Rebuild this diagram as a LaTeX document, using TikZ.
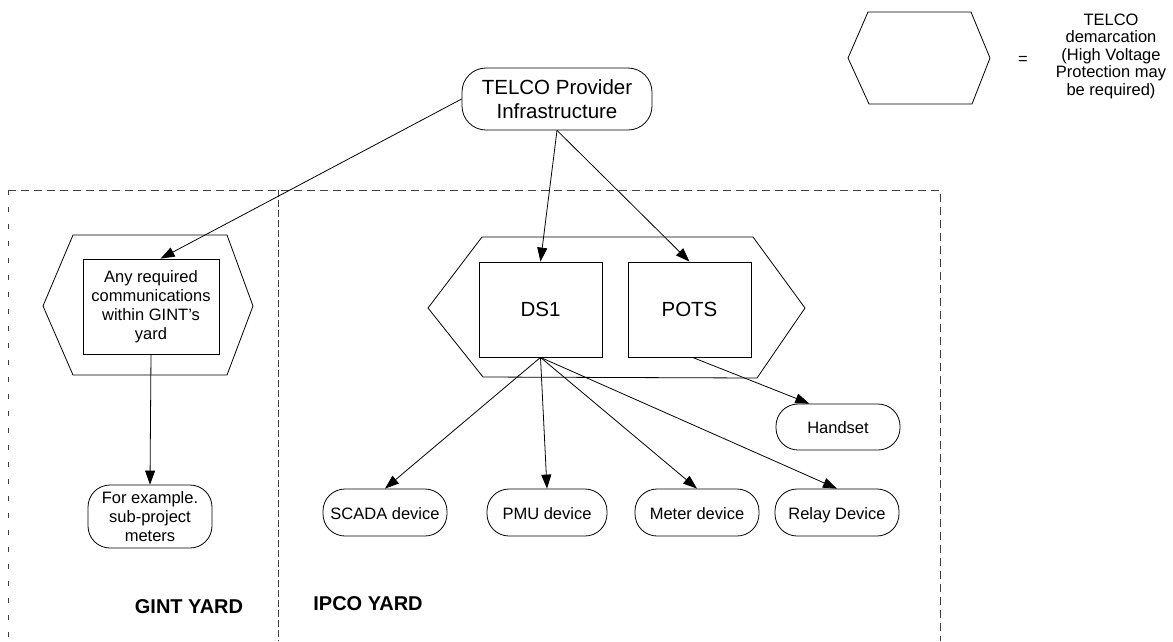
\documentclass[tikz,border=0pt]{standalone}
\usepackage{fontspec}
\setmainfont{Liberation Sans}
\usetikzlibrary{arrows.meta,calc}
\begin{document}
\begin{tikzpicture}[x=1pt,y=-1pt,
  conn/.style={draw, line width=0.8pt, -{Triangle[length=14pt,width=10pt]}},
  boxnode/.style={draw, line width=0.8pt, align=center, inner sep=2pt},
  pill/.style={draw, line width=0.8pt, align=center, inner sep=2pt, rounded corners=22pt},
  oneline/.style={text height=14pt, text depth=1pt},
  hexshape/.style={draw, line width=0.8pt},
  yardline/.style={draw=black!75, line width=0.8pt},
  bigtxt/.style={font=\fontsize{20.5}{24}\selectfont},
  midtxt/.style={font=\fontsize{16.5}{19}\selectfont},
  legtxt/.style={font=\fontsize{16.5}{17.5}\selectfont},
  yardtxt/.style={font=\bfseries\fontsize{20}{24}\selectfont},
]
\useasboundingbox (0,0) rectangle (1173,641);

% yard boundaries
\coordinate (ytl) at (8,190);
\coordinate (ytr) at (940,190);
\coordinate (ybl) at (8,641);
\coordinate (ybr) at (940,641);
\coordinate (dtop) at (278,190);
\coordinate (dbot) at (278,641);
\draw[yardline, dash pattern=on 8pt off 5pt] (ytl) -- (ytr) -- (ybr);
\draw[yardline, dash pattern=on 5pt off 12pt] (ytl) -- (ybl);
\draw[yardline, dash pattern=on 7pt off 3pt] (dtop) -- (dbot);

% hexagons
\draw[hexshape] (73,235) -- (227,235) -- (253,306) -- (227,375) -- (73,375) -- (43,306) -- cycle;
\draw[hexshape] (482,237) -- (753,237) -- (805,308) -- (757,378) -- (483,377) -- (428,308) -- cycle;
\draw[hexshape] (868,12) -- (971,12) -- (990,58) -- (972,104) -- (869,104) -- (848,58) -- cycle;

% legend
\node[midtxt] (eq) at (1023,60) {=};
\node[legtxt, align=center, inner sep=0pt] (legend) at (1111,56) {TELCO\\demarcation\\(High Voltage\\Protection may\\be required)};

% nodes
\node[pill, bigtxt, minimum width=190pt, minimum height=62pt, rounded corners=24pt] (telco) at (557,99) {TELCO Provider\\Infrastructure};
\node[boxnode, midtxt, minimum width=136pt, minimum height=95pt] (gbox) at (151,306.5) {Any required\\communications\\within GINT’s\\yard};
\node[boxnode, bigtxt, minimum width=123pt, minimum height=95pt] (ds1) at (540.5,309.5) {DS1};
\node[boxnode, bigtxt, minimum width=123pt, minimum height=95pt] (pots) at (689.5,309.5) {POTS};
\node[pill, midtxt, minimum width=124pt, minimum height=63pt] (fe) at (150,516.5) {For example.\\sub-project\\meters};
\node[pill, midtxt, oneline, minimum width=124pt, minimum height=47pt] (scada) at (385,512.5) {SCADA device};
\node[pill, midtxt, oneline, minimum width=120pt, minimum height=47pt] (pmu) at (547,512.5) {PMU device};
\node[pill, midtxt, oneline, minimum width=124pt, minimum height=47pt] (meter) at (697,512.5) {Meter device};
\node[pill, midtxt, oneline, minimum width=124pt, minimum height=47pt] (relay) at (837,512.5) {Relay Device};
\node[pill, midtxt, oneline, minimum width=124pt, minimum height=46pt] (hs) at (838,427) {Handset};

% yard labels
\node[yardtxt] (gy) at (189,607) {GINT YARD};
\node[yardtxt] (iy) at (368,604) {IPCO YARD};

% connectors
\draw[conn] (telco.west) -- ($(gbox.north west)!0.57!(gbox.north east)$);
\draw[conn] (telco.south) -- (ds1.north);
\draw[conn] (telco.south) -- (pots.north);
\draw[conn] (gbox.south) -- (fe.north);
\draw[conn] (ds1.south) -- (scada.north);
\draw[conn] (ds1.south) -- (pmu.north);
\draw[conn] (ds1.south) -- (meter.north);
\draw[conn] (ds1.south) -- (relay.north);
\draw[conn] ($(pots.south)+(3,0)$) -- ($(hs.north west)!0.27!(hs.north east)$);
\end{tikzpicture}
\end{document}
